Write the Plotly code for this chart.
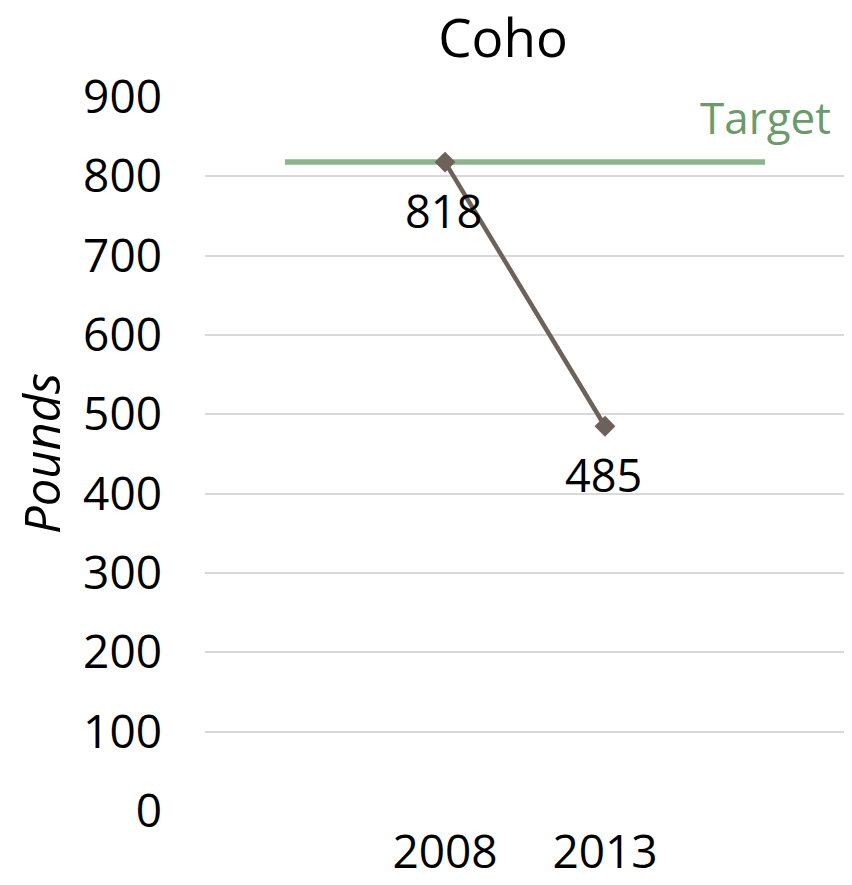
import plotly.graph_objects as go

years = ["2008", "2013"]
pounds = [818, 485]
target_value = 818
target_span = [0, 3]   # category slots covered by the target line
year_pos = [1, 2]
y_ticks = [0, 100, 200, 300, 400, 500, 600, 700, 800, 900]

FONT = "Open Sans"
W, H = 844, 877  # page body has an 8px margin
L, R, T, B = 197, 7, 89, 74

fig = go.Figure()
fig.add_trace(go.Scatter(
    x=target_span, y=[target_value] * len(target_span), mode="lines",
    line=dict(color="#8DB48D", width=5.5), showlegend=False, hoverinfo="skip"))
fig.add_trace(go.Scatter(
    x=year_pos, y=pounds, mode="lines+markers",
    line=dict(color="#6E615A", width=4.5),
    marker=dict(symbol="diamond", size=16, color="#6E615A"),
    showlegend=False))

for xp, v in zip(year_pos, pounds):
    fig.add_annotation(x=xp, y=v, xref="x", yref="y", text=str(v), showarrow=False,
                       font=dict(family=FONT, size=45, color="#000000"),
                       xanchor="center", yanchor="middle", yshift=-48, xshift=-2)

fig.add_annotation(x=3, y=875, xref="x", yref="y", text="Target", showarrow=False,
                   font=dict(family=FONT, size=44, color="#6B9A6B"),
                   xanchor="center", yanchor="middle")

# y-axis title
fig.add_annotation(x=(33 - L) / (W - L - R), y=0.5, xref="paper", yref="paper",
                   text="<i>Pounds</i>", showarrow=False, textangle=-90,
                   font=dict(family=FONT, size=49, color="#000000"),
                   xanchor="center", yanchor="middle")

fig.update_layout(
    width=W, height=H,
    margin=dict(l=L, r=R, t=T, b=B, autoexpand=False),
    paper_bgcolor="white", plot_bgcolor="white",
    title=dict(text="Coho", x=495 / W, xanchor="center", y=1 - 30 / H, yanchor="middle",
               font=dict(family=FONT, size=53, color="#000000")),
    xaxis=dict(range=[-0.5, 3.5], tickvals=year_pos, ticktext=years, automargin=False,
               showgrid=False, zeroline=False, showline=False, ticks="",
               tickfont=dict(family=FONT, size=46, color="#000000"),
               ticklabelstandoff=10),
    yaxis=dict(range=[0, 900], tickvals=y_ticks, showgrid=True, gridcolor="#D9D9D9",
               gridwidth=1.5, zeroline=False, showline=False, ticks="", automargin=False,
               tickfont=dict(family=FONT, size=46, color="#000000"),
               ticklabelstandoff=42),
)

fig.write_html("out.html")
